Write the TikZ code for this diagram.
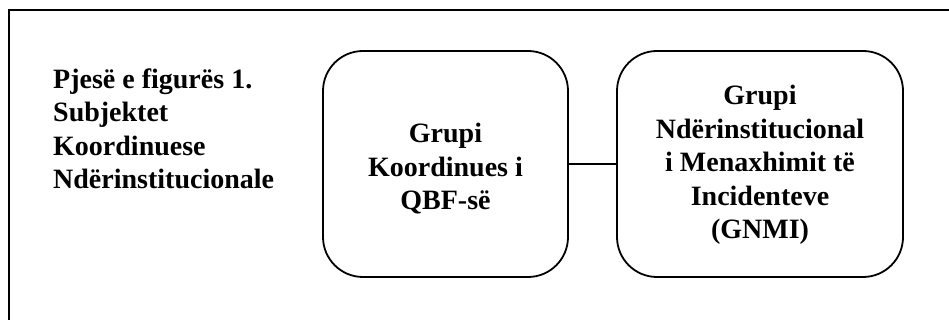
\documentclass[tikz,border=0pt]{standalone}
\usepackage{fontspec}
\setmainfont{Liberation Serif}
\begin{document}
\begin{tikzpicture}[x=1pt,y=1pt,
  txt/.style={font=\fontsize{28}{33.5}\selectfont\bfseries, align=center, inner sep=0pt},
  gbox/.style={draw, line width=1.8pt, rounded corners=40pt, inner sep=0pt}]
\useasboundingbox (0,0) rectangle (949,320);
\draw[line width=2.6pt] (9,0) -- (9,310) -- (949,310);
\node[txt, align=left, anchor=north west] (title) at (53,251.5)
  {Pjesë e figurës 1.\\Subjektet\\Koordinuese\\Ndërinstitucionale};
\node[gbox, minimum width=245pt, minimum height=226pt] (b1) at (445.5,156) {};
\node[txt] (t1) at ([yshift=-5pt]b1.center) {Grupi\\Koordinues i\\QBF-së};
\node[gbox, minimum width=286pt, minimum height=226pt] (b2) at (760,156) {};
\node[txt] (t2) at ([yshift=-1pt]b2.center) {Grupi\\Ndërinstitucional\\i Menaxhimit të\\Incidenteve\\(GNMI)};
\draw[line width=1.2pt] (b1.east) -- (b2.west);
\end{tikzpicture}
\end{document}
